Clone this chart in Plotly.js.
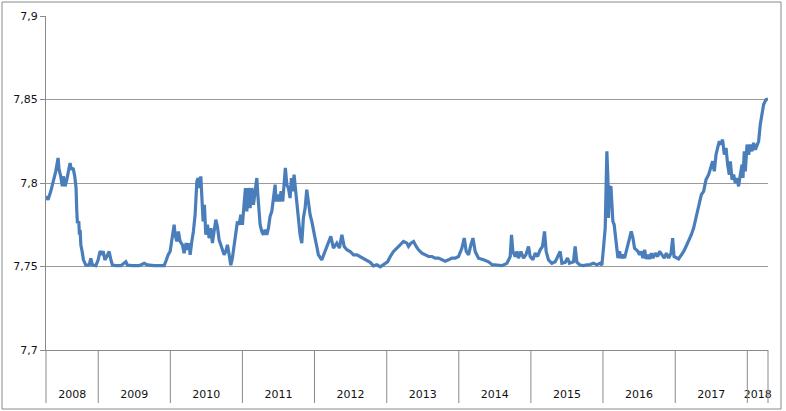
<!DOCTYPE html>
<html>
<head>
<meta charset="utf-8">
<script src="https://cdn.plot.ly/plotly-3.0.1.min.js"></script>
<style>
  html, body { margin: 0; padding: 0; background: #fff; }
  #chart { width: 786px; height: 411px; }
</style>
</head>
<body>
<div id="chart"></div>
<script>
// USD/HKD. Time is in decimal years.
var t0810 = [2008.277,2008.305,2008.343,2008.388,2008.412,2008.444,2008.458,2008.481,2008.503,2008.517,
  2008.541,2008.565,2008.583,2008.610,2008.628,2008.652,2008.675,2008.693,2008.703,2008.712,
  2008.731,2008.739,2008.749,2008.759,2008.781,2008.795,2008.828,2008.874,2008.897,2008.920,
  2008.967,2008.999,2009.026,2009.050,2009.068,2009.092,2009.119,2009.151,2009.175,2009.197,
  2009.244,2009.313,2009.383,2009.405,2009.474,2009.567,2009.637,2009.682,2009.775,2009.914,
  2009.946,2009.969];
var r0810 = [7.792,7.790,7.795,7.803,7.807,7.815,7.808,7.804,7.798,7.804,
  7.798,7.802,7.807,7.812,7.808,7.809,7.804,7.797,7.783,7.776,
  7.777,7.769,7.772,7.763,7.758,7.754,7.7508,7.7508,7.7548,7.7508,
  7.7505,7.754,7.7593,7.757,7.7593,7.754,7.756,7.759,7.754,7.7508,
  7.7505,7.7505,7.7528,7.7508,7.7505,7.7505,7.7519,7.751,7.7505,7.7505,
  7.754,7.757];

var t1012 = [2009.997,2010.021,2010.053,2010.067,2010.090,2010.112,2010.136,2010.168,2010.191,2010.219,
  2010.243,2010.261,2010.275,2010.298,2010.320,2010.344,2010.368,2010.386,2010.404,2010.423,
  2010.441,2010.455,2010.473,2010.492,2010.515,2010.538,2010.562,2010.584,2010.607,2010.631,
  2010.653,2010.677,2010.700,2010.723,2010.746,2010.770,2010.792,2010.816,2010.839,2010.861,
  2010.885,2010.908,2010.931,2010.954,2010.978,2011.000,2011.024,2011.042,2011.061,2011.083,
  2011.107,2011.130,2011.153,2011.176,2011.200,2011.214,2011.232,2011.246,2011.269,2011.291,
  2011.315,2011.338,2011.361,2011.384,2011.408,2011.430,2011.454,2011.467,2011.491,2011.513,
  2011.537,2011.560,2011.578,2011.596,2011.616,2011.638,2011.662,2011.680,2011.699,2011.717,
  2011.735,2011.755,2011.777,2011.800,2011.824,2011.846,2011.870,2011.893,2011.915,2011.939,
  2011.963,2011.985,2012.008,2012.032,2012.054,2012.101];
var r1012 = [7.759,7.765,7.775,7.769,7.765,7.771,7.765,7.763,7.758,7.764,
  7.760,7.764,7.757,7.765,7.771,7.781,7.801,7.803,7.797,7.804,
  7.791,7.777,7.787,7.769,7.775,7.767,7.773,7.764,7.771,7.778,
  7.774,7.766,7.763,7.759,7.757,7.759,7.763,7.757,7.7508,7.755,
  7.763,7.769,7.777,7.775,7.781,7.775,7.785,7.797,7.783,7.797,
  7.785,7.797,7.787,7.797,7.803,7.793,7.783,7.775,7.771,7.769,
  7.772,7.769,7.773,7.780,7.783,7.791,7.799,7.789,7.793,7.789,
  7.795,7.789,7.803,7.809,7.799,7.797,7.791,7.803,7.795,7.805,
  7.797,7.787,7.777,7.769,7.764,7.779,7.785,7.796,7.789,7.781,
  7.777,7.771,7.767,7.762,7.757,7.754];

var t1216 = [2012.147,2012.193,2012.226,2012.262,2012.309,2012.345,2012.379,2012.411,2012.448,2012.494,
  2012.540,2012.587,2012.632,2012.678,2012.725,2012.771,2012.817,2012.864,2012.910,2012.956,
  2013.011,2013.049,2013.094,2013.141,2013.187,2013.233,2013.280,2013.302,2013.336,2013.372,
  2013.409,2013.441,2013.488,2013.534,2013.580,2013.627,2013.673,2013.718,2013.766,2013.811,
  2013.857,2013.904,2013.950,2013.996,2014.043,2014.075,2014.103,2014.135,2014.168,2014.196,
  2014.227,2014.273,2014.343,2014.412,2014.459,2014.528,2014.598,2014.667,2014.713,2014.731,
  2014.750,2014.782,2014.806,2014.828,2014.861,2014.897,2014.931,2014.967,2014.990,2015.028,
  2015.060,2015.092,2015.129,2015.161,2015.189,2015.212,2015.244,2015.291,2015.337,2015.406,
  2015.430,2015.476,2015.508,2015.535,2015.591,2015.614,2015.638,2015.684,2015.730,2015.777,
  2015.822,2015.868,2015.915,2015.961,2015.985];
var r1216 = [7.759,7.765,7.768,7.761,7.764,7.761,7.769,7.762,7.760,7.759,
  7.757,7.757,7.756,7.755,7.754,7.7525,7.7504,7.751,7.7498,7.751,
  7.7528,7.756,7.759,7.761,7.763,7.765,7.764,7.762,7.764,7.765,
  7.762,7.760,7.758,7.757,7.756,7.756,7.755,7.755,7.754,7.7532,
  7.754,7.755,7.755,7.756,7.761,7.767,7.759,7.757,7.763,7.767,
  7.759,7.755,7.754,7.7528,7.7512,7.7508,7.7505,7.7519,7.756,7.769,
  7.759,7.756,7.759,7.755,7.759,7.755,7.757,7.762,7.756,7.754,
  7.758,7.756,7.760,7.762,7.771,7.759,7.754,7.7519,7.7528,7.759,
  7.752,7.7525,7.755,7.752,7.7528,7.762,7.7525,7.7508,7.7505,7.751,
  7.7512,7.752,7.751,7.752,7.7508];

var t1618 = [2016.007,2016.031,2016.054,2016.068,2016.076,2016.090,2016.110,2016.123,2016.137,2016.155,
  2016.169,2016.183,2016.207,2016.229,2016.252,2016.276,2016.298,2016.322,2016.345,2016.368,
  2016.391,2016.415,2016.437,2016.461,2016.484,2016.506,2016.530,2016.553,2016.576,2016.599,
  2016.623,2016.645,2016.669,2016.692,2016.724,2016.756,2016.784,2016.817,2016.849,2016.877,
  2016.909,2016.942,2016.964,2016.983,2017.015,2017.047,2017.085,2017.117,2017.150,2017.186,
  2017.223,2017.255,2017.289,2017.325,2017.362,2017.394,2017.427,2017.463,2017.497,2017.519,
  2017.542,2017.566,2017.588,2017.612,2017.635,2017.657,2017.681,2017.705,2017.727,2017.750,
  2017.764,2017.788,2017.810,2017.834,2017.857,2017.879,2017.903,2017.927,2017.940,2017.958,
  2017.972,2017.996,2018.018,2018.042,2018.065,2018.087,2018.111,2018.135,2018.157,2018.180,
  2018.204,2018.226,2018.259,2018.287];
var r1618 = [7.761,7.773,7.819,7.803,7.779,7.797,7.798,7.787,7.777,7.775,
  7.769,7.761,7.755,7.759,7.755,7.757,7.755,7.759,7.764,7.767,
  7.771,7.767,7.761,7.760,7.759,7.757,7.759,7.755,7.760,7.7545,
  7.757,7.7545,7.758,7.755,7.758,7.756,7.759,7.757,7.755,7.758,
  7.755,7.758,7.767,7.756,7.755,7.7545,7.757,7.759,7.762,7.765,
  7.769,7.773,7.779,7.785,7.793,7.795,7.802,7.805,7.811,7.813,
  7.807,7.817,7.821,7.825,7.823,7.826,7.817,7.821,7.811,7.805,
  7.813,7.802,7.805,7.800,7.803,7.798,7.805,7.811,7.803,7.819,
  7.807,7.823,7.817,7.823,7.819,7.824,7.820,7.823,7.825,7.835,
  7.843,7.847,7.850,7.8503];

var yearLabels = ['2008','2009','2010','2011','2012','2013','2014','2015','2016','2017','2018'];
var yTicks = [7.7, 7.75, 7.8, 7.85, 7.9];
var yTickText = ['7,7', '7,75', '7,8', '7,85', '7,9'];

function toDate(t) {
  var y = Math.floor(t);
  var a = Date.UTC(y, 0, 1), b = Date.UTC(y + 1, 0, 1);
  return new Date(a + (t - y) * (b - a)).toISOString().slice(0, 16).replace('T', ' ');
}

var times = t0810.concat(t1012, t1216, t1618);
var rates = r0810.concat(r1012, r1216, r1618);
var tFirst = times[0], tLast = times[times.length - 1];

// label in the middle of the visible part of each year
var tickVals = yearLabels.map(function (s) {
  var y = +s;
  var a = Math.max(y, tFirst), b = Math.min(y + 1, tLast);
  return toDate((a + b) / 2);
});

var gray = '#8a8a8a';
var below = -53 / 334;
var shapes = [];
yearLabels.slice(1).forEach(function (s) {
  shapes.push({type: 'line', xref: 'x', yref: 'paper', x0: s + '-01-01', x1: s + '-01-01',
    y0: below, y1: 0, line: {color: gray, width: 1}});
});
[0, 1].forEach(function (p) {
  shapes.push({type: 'line', xref: 'paper', yref: 'paper', x0: p, x1: p,
    y0: below, y1: 0, line: {color: gray, width: 1}});
});
shapes.push({type: 'rect', xref: 'paper', yref: 'paper', x0: -44 / 722, x1: 735 / 722,
  y0: -59 / 334, y1: 348 / 334, line: {color: gray, width: 1}, fillcolor: 'rgba(0,0,0,0)'});

var trace = {
  x: times.map(toDate),
  y: rates,
  type: 'scatter',
  mode: 'lines',
  line: {color: '#4a7ebb', width: 3.2},
  hoverinfo: 'none'
};

var layout = {
  width: 786,
  height: 411,
  margin: {l: 46, r: 18, t: 16, b: 61},
  paper_bgcolor: '#fff',
  plot_bgcolor: '#fff',
  showlegend: false,
  font: {family: 'DejaVu Sans', size: 11, color: '#111'},
  xaxis: {
    type: 'date',
    range: [toDate(tFirst), toDate(tLast)],
    tickmode: 'array',
    tickvals: tickVals,
    ticktext: yearLabels,
    ticks: 'outside',
    ticklen: 34,
    tickcolor: 'rgba(0,0,0,0)',
    showgrid: false,
    zeroline: false,
    showline: true,
    linecolor: gray,
    linewidth: 1
  },
  yaxis: {
    range: [7.7, 7.9],
    tickmode: 'array',
    tickvals: yTicks,
    ticktext: yTickText,
    ticks: 'outside',
    ticklen: 5,
    tickcolor: gray,
    showgrid: true,
    gridcolor: '#9a9a9a',
    gridwidth: 1,
    zeroline: false,
    showline: true,
    linecolor: gray,
    linewidth: 1
  },
  shapes: shapes
};

Plotly.newPlot('chart', [trace], layout, {displayModeBar: false, staticPlot: true});
</script>
</body>
</html>
